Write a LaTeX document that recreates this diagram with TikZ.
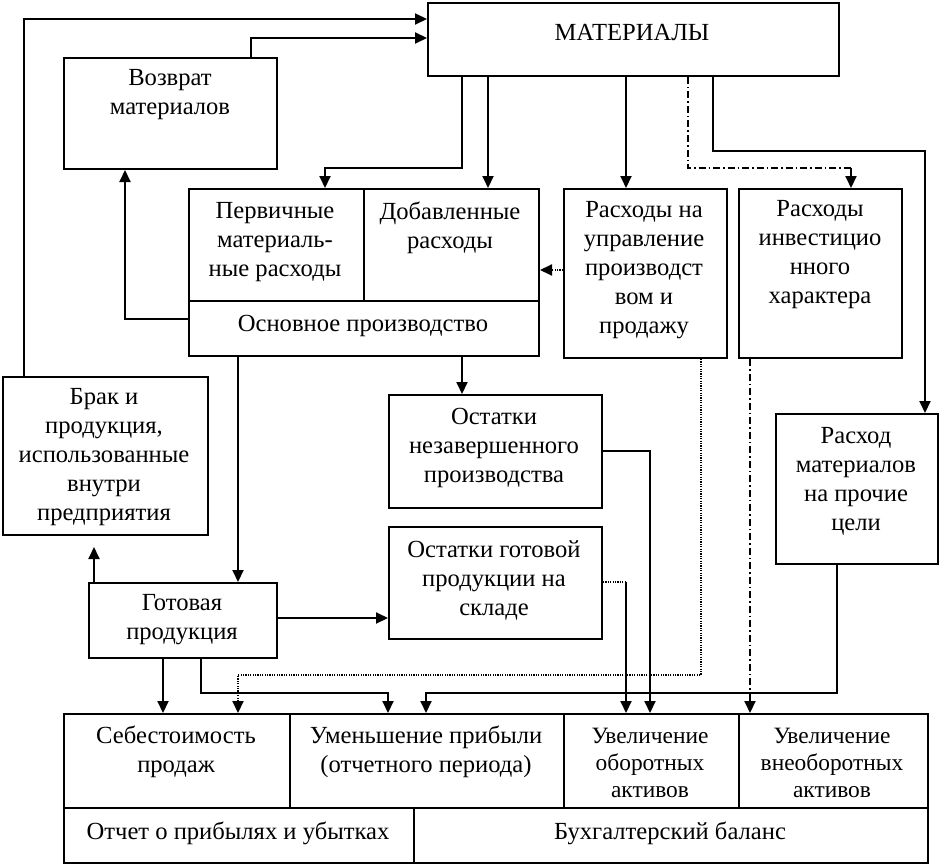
\documentclass[tikz,border=0pt]{standalone}
\usepackage{fontspec}
\setmainfont{Liberation Serif}
\usetikzlibrary{arrows.meta}
\begin{document}
\begin{tikzpicture}[x=1pt,y=-1pt,
  bx/.style={draw, line width=2pt, inner sep=0pt, anchor=north west},
  txt/.style={align=center, inner sep=0pt, font=\fontsize{24.6}{29}\selectfont},
  stxt/.style={align=center, inner sep=0pt, font=\fontsize{23.4}{27}\selectfont},
  arr/.style={line width=2pt, -{Triangle[length=12pt,width=11pt]}},
  ln/.style={line width=2pt},
  dotl/.style={line width=1.2pt, dash pattern=on 1.2pt off 1.2pt},
  dashdot/.style={line width=1.6pt, dash pattern=on 7pt off 3pt on 1.5pt off 3pt}
]
\useasboundingbox[fill=white] (0,0) rectangle (939,864);

% boxes
\node[bx, minimum width=411pt, minimum height=73pt] (mat) at (427,2) {};
\node[bx, minimum width=213pt, minimum height=111pt] (voz) at (63,57) {};
\node[bx, minimum width=175pt, minimum height=112pt] (perv) at (188,188) {};
\node[bx, minimum width=175pt, minimum height=112pt] (dob) at (363,188) {};
\node[bx, minimum width=350pt, minimum height=55pt] (osn) at (188,300) {};
\node[bx, minimum width=163pt, minimum height=169pt] (upr) at (563,188) {};
\node[bx, minimum width=163pt, minimum height=169pt] (inv) at (738,188) {};
\node[bx, minimum width=213pt, minimum height=113pt] (ostN) at (388,394) {};
\node[bx, minimum width=213pt, minimum height=112pt] (ostG) at (388,526) {};
\node[bx, minimum width=162pt, minimum height=150pt] (rash) at (775,413) {};
\node[bx, minimum width=205pt, minimum height=158pt] (brak) at (2,376) {};
\node[bx, minimum width=188pt, minimum height=75pt] (gp) at (88,582) {};
\node[bx, minimum width=226pt, minimum height=94pt] (sebe) at (63,713) {};
\node[bx, minimum width=274pt, minimum height=94pt] (umen) at (289,713) {};
\node[bx, minimum width=175pt, minimum height=94pt] (uvo) at (563,713) {};
\node[bx, minimum width=189pt, minimum height=94pt] (uvv) at (738,713) {};
\node[bx, minimum width=350pt, minimum height=55pt] (otch) at (63,807) {};
\node[bx, minimum width=514pt, minimum height=55pt] (buh) at (413,807) {};

% texts
\node[txt] (tmat) at (632,33) {МАТЕРИАЛЫ};
\node[txt] (tvoz) at (170,95) {Возврат\\материалов};
\node[txt] (tperv) at (275,242) {Первичные\\материаль-\\ные расходы};
\node[txt] (tdob) at (450,228) {Добавленные\\расходы};
\node[txt] (tosn) at (363,326) {Основное производство};
\node[txt] (tupr) at (644,270) {Расходы на\\управление\\производст\\вом и\\продажу};
\node[txt] (tinv) at (820,255) {Расходы\\инвестицио\\нного\\характера};
\node[txt] (tostN) at (494,448) {Остатки\\незавершенного\\производства};
\node[txt] (tostG) at (494,580) {Остатки готовой\\продукции на\\складе};
\node[txt] (trash) at (856,481) {Расход\\материалов\\на прочие\\цели};
\node[txt] (tbrak) at (104,457) {Брак и\\продукция,\\использованные\\внутри\\предприятия};
\node[txt] (tgp) at (182,620) {Готовая\\продукция};
\node[txt] (tsebe) at (176,752) {Себестоимость\\продаж};
\node[txt] (tumen) at (426,752) {Уменьшение прибыли\\(отчетного периода)};
\node[stxt] (tuvo) at (650,763) {Увеличение\\оборотных\\активов};
\node[stxt] (tuvv) at (832,763) {Увеличение\\внеоборотных\\активов};
\node[txt] (totch) at (238,833) {Отчет о прибылях и убытках};
\node[txt] (tbuh) at (670,833) {Бухгалтерский баланс};

% connectors
\draw[arr] (24,0 |- brak.north) |- (mat.west |- 0,19);
\draw[arr] (251,0 |- voz.north) |- (mat.west |- 0,38);
\draw[arr] (462,0 |- mat.south) -- (462,168) -| (325,0 |- perv.north);
\draw[arr] (488,0 |- mat.south) -- (488,0 |- dob.north);
\draw[arr] (626,0 |- mat.south) -- (626,0 |- upr.north);
\draw[dashdot] (688,0 |- mat.south) -- (688,168) -- (851,168);
\draw[arr] (851,168) -- (851,0 |- inv.north);
\draw[arr] (713,0 |- mat.south) -- (713,151) -| (925,0 |- rash.north);
\draw[dotl] (upr.west |- 0,270) -- (548,270);
\draw[arr] (548,270) -- (dob.east |- 0,270);
\draw[arr] (osn.west |- 0,319) -| (125,0 |- voz.south);
\draw[arr] (462,0 |- osn.south) -- (462,0 |- ostN.north);
\draw[arr] (238,0 |- osn.south) -- (238,0 |- gp.north);
\draw[arr] (gp.east |- 0,618) -- (ostG.west |- 0,618);
\draw[arr, shorten >=11pt] (94,0 |- gp.north) -- (94,0 |- brak.south);
\draw[arr] (163,0 |- gp.south) -- (163,0 |- sebe.north);
\draw[arr] (201,0 |- gp.south) -- (201,693) -| (388,0 |- umen.north);
\draw[dotl] (701,0 |- upr.south) -- (701,675) -| (238,700);
\draw[arr] (238,700) -- (238,0 |- sebe.north);
\draw[dashdot] (750,0 |- inv.south) -- (750,700);
\draw[arr] (750,700) -- (750,0 |- uvv.north);
\draw[arr] (ostN.east |- 0,451) -| (650,0 |- uvo.north);
\draw[dotl] (ostG.east |- 0,582) -- (626,582);
\draw[arr] (626,582) -- (626,0 |- uvo.north);
\draw[arr] (837,0 |- rash.south) -- (837,693) -| (426,0 |- umen.north);
\end{tikzpicture}
\end{document}
